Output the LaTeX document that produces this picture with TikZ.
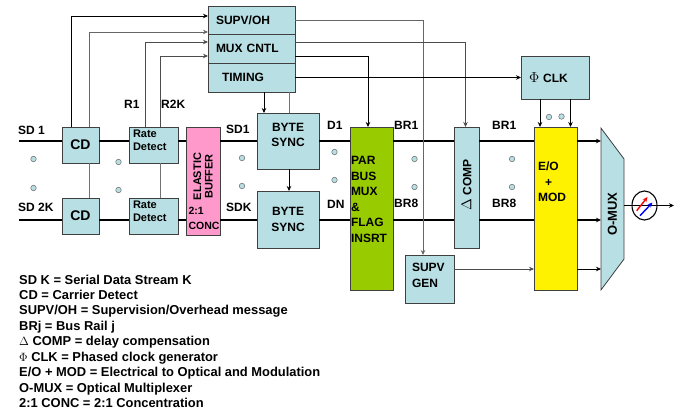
\documentclass[tikz,border=0pt]{standalone}
\usepackage{fontspec}
\usepackage{xcolor}
\setmainfont{Liberation Sans}
\usetikzlibrary{arrows.meta, shapes.geometric}
\definecolor{boxblue}{HTML}{B8DFE3}
\definecolor{busgreen}{HTML}{99CC00}
\definecolor{bufpink}{HTML}{FF99CC}
\begin{document}
\begin{tikzpicture}[
    x=1pt, y=-1pt,
    >={Stealth[length=5pt,width=4.5pt]},
    box/.style={draw=black!75, rectangle, fill=boxblue, line width=0.8pt, inner sep=0pt, outer sep=0pt, align=center, font=\fontsize{12}{15.5}\selectfont\bfseries},
    lbox/.style={box, align=left, inner xsep=#1},
    txt/.style={inner sep=0pt, font=\fontsize{12}{15}\selectfont\bfseries},
    dot/.style={circle, draw=black!60, fill=boxblue, line width=0.5pt, inner sep=0pt, minimum size=5.5pt},
    rail/.style={line width=1.4pt, black},
    arrow/.style={->, line width=0.7pt, black},
    ctl/.style={line width=0.8pt, black!55}
]
\useasboundingbox (0,0) rectangle (683,414);

% --- CONTROL BLOCK ---
\node[lbox=8pt, text width=71pt, minimum height=28pt] (supv) at (251.5,20) {SUPV/OH};
\node[lbox=8pt, text width=71pt, minimum height=29pt] (mux) at (251.5,48.5) {MUX CNTL};
\node[lbox=8pt, text width=71pt, minimum height=29pt] (timing) at (251.5,77.5) {\hspace*{6pt}TIMING};

% --- INPUT BLOCKS ---
\node[box, minimum width=37pt, minimum height=36pt, font=\fontsize{14}{16}\selectfont\bfseries] (cdone) at (80.5,145) {CD};
\node[box, minimum width=37pt, minimum height=36pt, font=\fontsize{14}{16}\selectfont\bfseries] (cdtwo) at (80.5,216) {CD};
\node[lbox=4pt, text width=41pt, minimum height=36pt, font=\fontsize{11}{13.5}\selectfont\bfseries] (rateone) at (153.5,145) {Rate\\Detect\\[-3.5pt]\mbox{}};
\node[lbox=4pt, text width=41pt, minimum height=36pt, font=\fontsize{11}{13.5}\selectfont\bfseries] (ratetwo) at (153.5,216) {Rate\\Detect\\[-3.5pt]\mbox{}};
\node[box, fill=bufpink, minimum width=34pt, minimum height=108pt] (elastic) at (203,181) {};
\node[txt, rotate=90, align=center, font=\fontsize{11}{11.5}\selectfont\bfseries] (elastictxt) at (203,176.5) {ELASTIC\\BUFFER};
\node[txt, align=left, font=\fontsize{10.5}{15}\selectfont\bfseries] (conctxt) at (204,218.5) {2:1\\CONC};
\node[box, minimum width=62pt, minimum height=56pt] (syncone) at (288,141) {BYTE\\SYNC\\[-3pt]\mbox{}};
\node[box, minimum width=62pt, minimum height=57pt] (synctwo) at (288,219.5) {BYTE\\SYNC};

% --- BUS AND OUTPUT BLOCKS ---
\node[lbox=1pt, fill=busgreen, text width=41pt, minimum height=163pt] (parmux) at (371.5,208.5) {PAR\\BUS\\MUX\\\&\\FLAG\\INSRT\\[3pt]\mbox{}};
\node[box, rotate=90, minimum width=121pt, minimum height=25pt] (dcomp) at (466.5,187.5) {{\fontsize{14}{14}\selectfont$\Delta$} COMP\hspace*{-5pt}};
\node[lbox=7pt, text width=35pt, minimum height=48pt] (supvgen) at (429.5,279) {SUPV\\GEN\\[-8pt]\mbox{}};
\node[lbox=8pt, text width=52pt, minimum height=43pt] (clk) at (555,77.5) {{\fontsize{15}{15}\selectfont$\Phi$} CLK};
\node[lbox=4pt, fill=yellow, text width=35pt, minimum height=163pt] (eomod) at (555.5,208.5) {E/O\\\hspace*{7pt}+\\MOD\\[38pt]\mbox{}};
\node[box, trapezium, trapezium stretches=true, trapezium angle=29.3, shape border rotate=180, rotate=90, minimum width=162pt, minimum height=23pt, font=\fontsize{13}{15}\selectfont\bfseries] (omux) at (612.5,209) {O-MUX\hspace*{10pt}};
\node[ellipse, draw=black, line width=1.1pt, inner sep=0pt, minimum width=25pt, minimum height=29pt] (attn) at (644.5,205.5) {};

% --- TAP POINTS ---
\coordinate (sdone) at (19,141);
\coordinate (sdtwo) at (19,220);
\coordinate (tapa) at (71,16);
\coordinate (tapb) at (89.5,32);
\coordinate (tapc) at (145,42);
\coordinate (tapd) at (160,56);
\coordinate (outa) at (423,20.5);
\coordinate (outb) at (465.5,42);
\coordinate (outc) at (368,56);
\coordinate (outd) at (480,269);
\coordinate (fibre) at (674,205.5);

% --- DATA RAILS ---
\draw[rail] (sdone) -- (sdone -| cdone.west);
\draw[rail] (sdtwo) -- (sdtwo -| cdtwo.west);
\foreach \a/\b in {cdone/rateone, rateone/elastic, elastic/syncone, syncone/parmux}
    \draw[rail] (\a.east |- sdone) -- (\b.west |- sdone);
\foreach \a/\b in {cdtwo/ratetwo, ratetwo/elastic, elastic/synctwo, synctwo/parmux}
    \draw[rail] (\a.east |- sdtwo) -- (\b.west |- sdtwo);
\draw[rail] (parmux.east |- sdone) -- (dcomp.north |- sdone);
\draw[rail] (parmux.east |- sdtwo) -- (dcomp.north |- sdtwo);
\draw[rail] (dcomp.south |- sdone) -- (eomod.west |- sdone);
\draw[rail] (dcomp.south |- sdtwo) -- (eomod.west |- sdtwo);
\draw[rail, ->] (eomod.east |- sdone) -- (omux.north |- sdone);
\draw[rail, ->] (eomod.east |- sdtwo) -- (omux.north |- sdtwo);
\draw[rail, ->] (omux.south |- fibre) -- (fibre);

% --- CONTROL LINES ---
\draw[arrow] (tapa |- cdone.north) -- (tapa) -- (tapa -| supv.west);
\draw[arrow, black!60] (tapb |- cdone.north) -- (tapb) -- (tapb -| supv.west);
\draw[arrow, black!70] (tapc |- rateone.north) -- (tapc) -- (tapc -| supv.west);
\draw[arrow, black!70] (tapd |- rateone.north) -- (tapd) -- (tapd -| supv.west);
\draw[ctl] (tapb |- cdone.south) -- (tapb |- cdtwo.north);
\draw[ctl] (tapd |- rateone.south) -- (tapd |- ratetwo.north);
\draw[arrow, black!60] (outa -| supv.east) -- (outa) -- (outa |- supvgen.north);
\draw[arrow, black!70] (outb -| mux.east) -- (outb) -- (outb |- dcomp.east);
\draw[arrow] (outc -| mux.east) -- (outc) -- (outc |- parmux.north);
\draw[arrow] (timing.east) -- (clk.west);
\draw[arrow] ([xshift=12.5pt]timing.south) -- ([xshift=12.5pt]timing.south |- syncone.north);
\draw[ctl] ([xshift=37.5pt]timing.south) -- ([xshift=37.5pt]timing.south |- syncone.north);
\draw[arrow] ([xshift=1pt]syncone.south) -- ([xshift=1pt]synctwo.north);
\draw[arrow] ([xshift=-15pt]clk.south) -- ([xshift=-15pt]clk.south |- eomod.north);
\draw[arrow] ([xshift=15.5pt]clk.south) -- ([xshift=15.5pt]clk.south |- eomod.north);
\draw[arrow, black!70] (outd -| supvgen.east) -- (outd -| eomod.west);
\draw[arrow] (outd -| eomod.east) -- (outd -| omux.north);

% --- TUNABLE ARROWS ---
\draw[->, red, line width=1.4pt] (636.7,210.7) -- (647.5,197);
\draw[->, blue, line width=1.4pt] (640,215.7) -- (652.5,202.5);

% --- PARALLEL DOTS ---
\foreach \x/\y in {33.5/159, 33.5/188, 118.5/162, 118.5/190, 242/158, 242/186, 334.5/152, 334.5/180, 414.5/159, 414.5/187, 512/159, 512/187, 549/117, 561.5/116.5}
    \node[dot] (dot\x) at (\x,\y) {};

% --- RAIL LABELS ---
\node[txt, anchor=west] (lsdone) at (18,130) {SD 1};
\node[txt, anchor=west] (lsdtwo) at (18,207) {SD 2K};
\node[txt, anchor=west] (lrone) at (124,104) {R1};
\node[txt, anchor=west] (lrtwo) at (161,104) {R2K};
\node[txt, anchor=west] (lsone) at (226,129) {SD1};
\node[txt, anchor=west] (lsk) at (226,207) {SDK};
\node[txt, anchor=west] (ldone) at (327,125) {D1};
\node[txt, anchor=west] (ldn) at (327,204) {DN};
\node[txt, anchor=west] (lbrone) at (394,125) {BR1};
\node[txt, anchor=west] (lbreight) at (394,203) {BR8};
\node[txt, anchor=west] (lbrtwo) at (492,125) {BR1};
\node[txt, anchor=west] (lbrnine) at (492,203) {BR8};

% --- LEGEND ---
\node[txt, anchor=north west, align=left, font=\fontsize{12.9}{15.45}\selectfont\bfseries] (legend) at (19,274.5) {SD K = Serial Data Stream K\\
CD = Carrier Detect\\
SUPV/OH = Supervision/Overhead message\\
BRj = Bus Rail j\\
$\Delta$ COMP = delay compensation\\
$\Phi$ CLK = Phased clock generator\\
E/O + MOD = Electrical to Optical and Modulation\\
O-MUX = Optical Multiplexer\\
2:1 CONC = 2:1 Concentration};
\end{tikzpicture}
\end{document}
